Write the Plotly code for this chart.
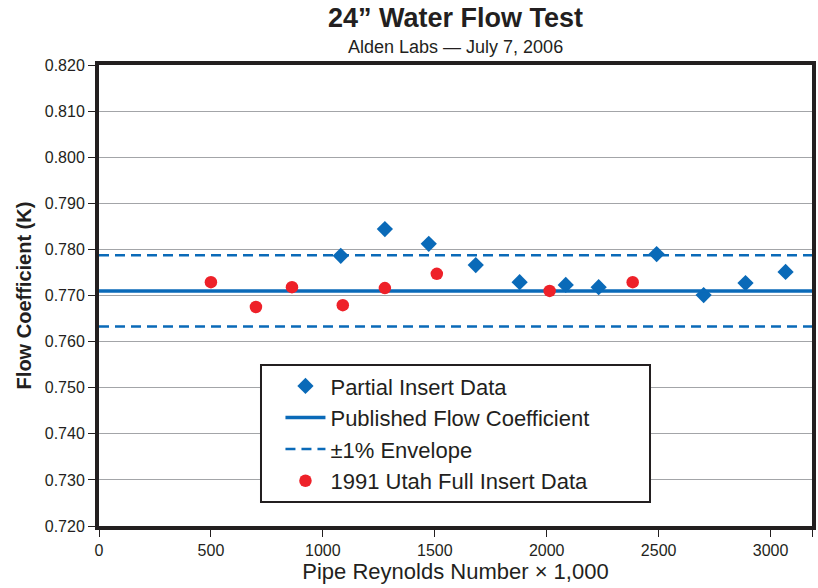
import plotly.graph_objects as go

partial_x = [1080, 1277, 1473, 1683, 1879, 2085, 2232, 2491, 2701, 2888, 3067]
partial_k = [0.7786, 0.7844, 0.7812, 0.7766, 0.7729, 0.7723, 0.7718, 0.7790, 0.7701, 0.7727, 0.7751]
utah_x = [500, 701, 862, 1089, 1277, 1509, 2013, 2384]
utah_k = [0.7729, 0.7675, 0.7718, 0.7679, 0.7716, 0.7747, 0.7710, 0.7729]
published_k = 0.771
envelope_pct = 0.01
x_range = [0, 3185]
y_range = [0.720, 0.820]
x_ticks = [0, 500, 1000, 1500, 2000, 2500, 3000]
x_tick_labels = ["0", "500", "1000", "1500", "2000", "2500", "3000"]

FONT = "Liberation Sans, Arial, sans-serif"
BLUE = "#0a6ab8"
RED = "#ee2129"
INK = "#231f20"

fig = go.Figure()
fig.add_trace(go.Scatter(x=partial_x, y=partial_k, mode="markers", name="Partial Insert Data",
                         marker=dict(symbol="diamond", size=12.5, color=BLUE)))
fig.add_trace(go.Scatter(x=x_range, y=[published_k] * 2, mode="lines", name="Published Flow Coefficient",
                         line=dict(color=BLUE, width=3.5)))
fig.add_trace(go.Scatter(x=x_range, y=[published_k * (1 + envelope_pct)] * 2, mode="lines",
                         name="±1% Envelope", line=dict(color=BLUE, width=2.5, dash="10px,6px")))
fig.add_trace(go.Scatter(x=x_range, y=[published_k * (1 - envelope_pct)] * 2, mode="lines",
                         showlegend=False, line=dict(color=BLUE, width=2.5, dash="10px,6px")))
fig.add_trace(go.Scatter(x=utah_x, y=utah_k, mode="markers", name="1991 Utah Full Insert Data",
                         marker=dict(symbol="circle", size=12.5, color=RED)))

# legend frame (white box with black border) drawn as a paper-referenced shape
fig.add_shape(type="rect", xref="paper", yref="paper",
              x0=0.2272, x1=0.7728, y0=0.052, y1=0.349,
              fillcolor="white", line=dict(color=INK, width=2), layer="above")

fig.update_layout(
    width=818, height=588,
    margin=dict(l=99, r=6, t=65, b=62),
    paper_bgcolor="white", plot_bgcolor="white",
    font=dict(family=FONT, color=INK),
    showlegend=True,
    legend=dict(x=0.2545, y=0.349, xanchor="left", yanchor="top",
                bgcolor="rgba(0,0,0,0)", borderwidth=0,
                font=dict(family=FONT, size=22, color=INK),
                itemwidth=40, tracegroupgap=0),
    annotations=[
        dict(text="<b>24” Water Flow Test</b>", x=0.5, y=1.0, xref="paper", yref="paper",
             yanchor="bottom", yshift=30, showarrow=False, font=dict(size=27, family=FONT, color=INK)),
        dict(text="Alden Labs — July 7, 2006", xref="paper", yref="paper", x=0.5, y=1.0,
             yanchor="bottom", yshift=6, showarrow=False, font=dict(size=18, family=FONT, color=INK)),
    ],
)

fig.update_xaxes(range=x_range, tickvals=x_ticks + [x_range[1]], ticktext=x_tick_labels + [""],
                 automargin=False,
                 ticks="outside", ticklen=7, tickcolor=INK, tickwidth=1,
                 showgrid=False, zeroline=False,
                 showline=True, linecolor=INK, linewidth=4, mirror=True,
                 tickfont=dict(size=16, family=FONT, color=INK),
                 title=dict(text="Pipe Reynolds Number × 1,000", font=dict(size=22, family=FONT, color=INK), standoff=6))
fig.update_yaxes(range=y_range, dtick=0.01, tickformat=".3f", automargin=False,
                 ticks="outside", ticklen=7, tickcolor=INK, tickwidth=1,
                 showgrid=True, gridcolor="#a3a5a8", gridwidth=1.2, zeroline=False,
                 showline=True, linecolor=INK, linewidth=4, mirror=True,
                 tickfont=dict(size=16, family=FONT, color=INK),
                 title=dict(text="<b>Flow Coefficient (K)</b>", font=dict(size=20, family=FONT, color=INK), standoff=9))

fig.write_html("out.html", config={"displayModeBar": False},
               post_script="document.body.style.margin='0';document.body.style.overflow='hidden';")
